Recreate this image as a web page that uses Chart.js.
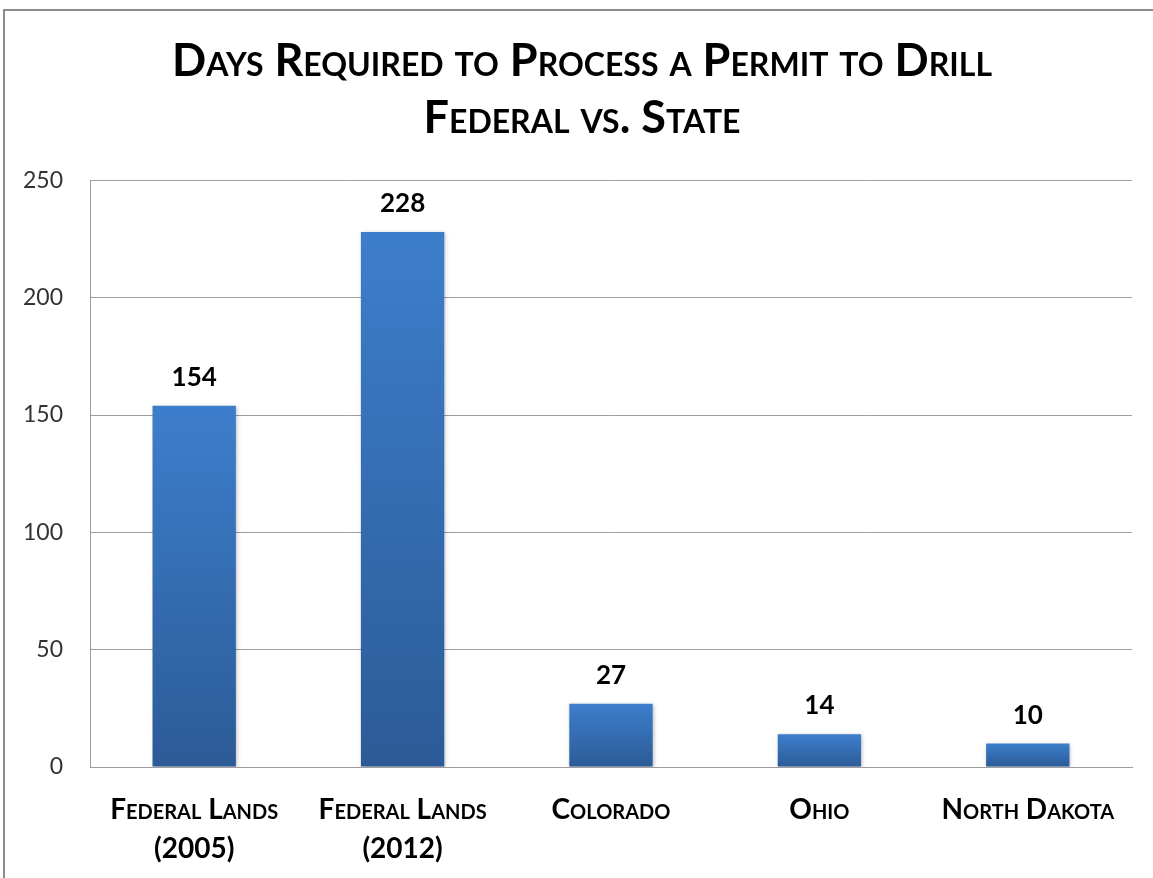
<!DOCTYPE html>
<html>
<head>
<meta charset="utf-8">
<script src="https://cdn.jsdelivr.net/npm/chart.js@4.4.1/dist/chart.umd.min.js"></script>
<style>
  html, body { margin: 0; padding: 0; background: #fff; overflow: hidden; }
  #frame { position: absolute; left: 3px; top: 9px; width: 1180px; height: 900px; border: 2px solid #8c8c8c; box-sizing: border-box; }
  #grafico { position: absolute; left: 0; top: 0; }
</style>
</head>
<body>
<div id="frame"></div>
<canvas id="grafico" width="1153" height="878"></canvas>
<script>
const categorias = [['Federal Lands', '(2005)'], ['Federal Lands', '(2012)'], 'Colorado', 'Ohio', 'North Dakota'];
const dias = [154, 228, 27, 14, 10];
const ticksY = [0, 50, 100, 150, 200, 250];
const titulo = ['Days Required to Process a Permit to Drill', 'Federal vs. State'];

// valores em cima das barras
const rotulosPlugin = {
  id: 'rotulos',
  afterDatasetsDraw(chart) {
    const ctx = chart.ctx;
    const meta = chart.getDatasetMeta(0);
    ctx.save();
    ctx.font = 'bold 26px Lato';
    ctx.fillStyle = '#000';
    ctx.textAlign = 'center';
    ctx.textBaseline = 'alphabetic';
    meta.data.forEach((bar, i) => {
      ctx.fillText(dias[i], bar.x, bar.y - 20);
    });
    ctx.restore();
  }
};

// sombra leve nas barras
const sombraPlugin = {
  id: 'sombra',
  beforeDatasetsDraw(chart) {
    const ctx = chart.ctx;
    ctx.save();
    ctx.shadowColor = 'rgba(0,0,0,0.25)';
    ctx.shadowBlur = 4;
    ctx.shadowOffsetX = 1;
    ctx.shadowOffsetY = 1;
  },
  afterDatasetsDraw(chart) {
    chart.ctx.restore();
  }
};

// título um pouco deslocado pra direita, como no original
const tituloPlugin = {
  id: 'tituloDesloc',
  afterLayout(chart) {
    if (chart.titleBlock) chart.titleBlock.left = 32;
  }
};

function gradienteBarra(context) {
  const chart = context.chart;
  const y = chart.scales.y;
  if (!chart.chartArea || !y) return '#3a76c0';
  const topo = y.getPixelForValue(context.raw);
  const base = y.getPixelForValue(0);
  const g = chart.ctx.createLinearGradient(0, topo, 0, base);
  g.addColorStop(0, '#3d7ecc');
  g.addColorStop(1, '#2c5b97');
  return g;
}

const ctx = document.getElementById('grafico').getContext('2d');
new Chart(ctx, {
  type: 'bar',
  data: {
    labels: categorias,
    datasets: [{
      data: dias,
      backgroundColor: gradienteBarra,
      borderWidth: 0,
      barPercentage: 0.8,
      categoryPercentage: 0.5
    }]
  },
  plugins: [sombraPlugin, rotulosPlugin, tituloPlugin],
  options: {
    responsive: false,
    animation: false,
    devicePixelRatio: 1,
    layout: { padding: { left: 0, right: 21, top: 0, bottom: 0 } },
    plugins: {
      legend: { display: false },
      tooltip: { enabled: false },
      title: {
        display: true,
        text: titulo,
        color: '#000',
        font: { family: 'Lato', size: 45, weight: 'small-caps bold', lineHeight: 1.26 },
        padding: { top: 33, bottom: 34 }
      }
    },
    scales: {
      x: {
        grid: { display: false, drawTicks: false },
        border: { display: true, color: '#9d9d9d', width: 1 },
        ticks: {
          color: '#000',
          padding: 24,
          maxRotation: 0,
          autoSkip: false,
          font: { family: 'Lato', size: 28, weight: 'small-caps bold', lineHeight: 1.39 }
        },
        afterFit(scale) { scale.height = 111; }
      },
      y: {
        min: 0,
        max: 250,
        afterBuildTicks(scale) { scale.ticks = ticksY.map(v => ({ value: v })); },
        grid: { color: '#9d9d9d', lineWidth: 1, drawTicks: false },
        border: { display: true, color: '#9d9d9d', width: 1 },
        ticks: {
          color: '#333',
          padding: 27,
          font: { family: 'Lato', size: 23 }
        },
        afterFit(scale) { scale.width = 90; }
      }
    }
  }
});
</script>
</body>
</html>
